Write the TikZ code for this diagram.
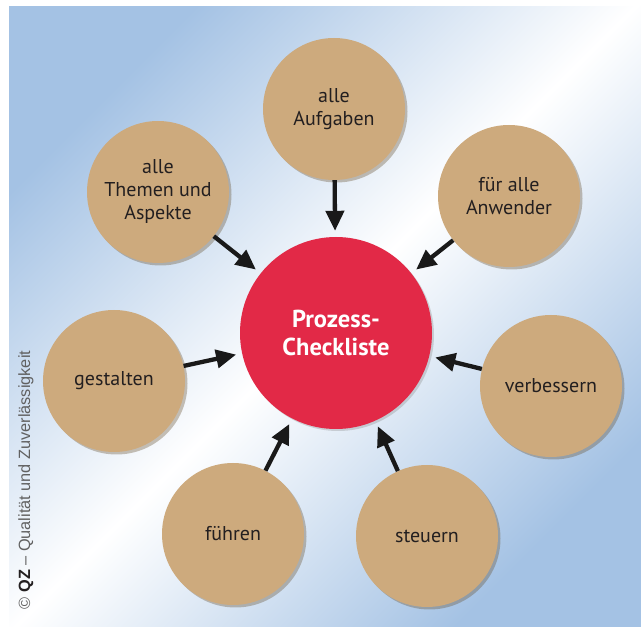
\documentclass[tikz,border=0pt]{standalone}
\usepackage{fontspec}
\setmainfont{PT Sans}
\newfontfamily\copyfont{Liberation Sans}
\usetikzlibrary{arrows.meta,shadows}
\definecolor{tan}{HTML}{CDAA7D}
\definecolor{tanrim}{HTML}{A8844F}
\definecolor{hubred}{HTML}{E22947}
\definecolor{bgblue}{HTML}{A4C2E4}
\definecolor{txt}{HTML}{231F20}
\tikzset{
  x=1pt,y=-1pt,
  spoke/.style={circle,fill=tan,minimum size=142pt,inner sep=0pt,align=center,
    text=txt,font=\fontsize{20}{23}\selectfont,
    drop shadow={shadow xshift=2.5pt,shadow yshift=-2.5pt,opacity=0.35,fill=tanrim!60!black}},
  hub/.style={circle,fill=hubred,minimum size=192pt,inner sep=0pt,align=center,
    text=white,font=\fontsize{24.5}{28}\selectfont\bfseries,
    drop shadow={shadow xshift=2pt,shadow yshift=-2pt,opacity=0.3}},
  feed/.style={line width=4.3pt,draw=black!90,-{Triangle[length=20pt,width=18pt]},shorten >=6pt}
}
\begin{document}
\begin{tikzpicture}
\useasboundingbox (0,0) rectangle (641,628);
\fill[white] (0,0) rectangle (641,628);
\shade[top color=bgblue,bottom color=bgblue,middle color=white,shading angle=45] (9,7) rectangle (641,627);
\node[hub] (hub) at (336,333) {Prozess-\\Checkliste};
\node[spoke] (aufg) at (334,109) {alle\\Aufgaben};
\node[spoke] (them) at (158,192) {alle\\Themen und\\Aspekte};
\node[spoke] (anw) at (509,196) {für alle\\Anwender};
\node[spoke] (gest) at (114,381) {gestalten};
\node[spoke] (fuehr) at (233,534) {führen};
\node[spoke] (verb) at (551,386) {verbessern};
\node[spoke] (steu) at (427,536) {steuern};
\foreach \n in {aufg,them,anw,gest,fuehr,verb,steu}
  \draw[feed] (\n) -- (hub);
\node[rotate=90,font=\copyfont\fontsize{16.3}{18}\selectfont,text=black!62] (copy) at (26,480)
  {© \textbf{\textcolor{txt}{QZ}} – Qualität und Zuverlässigkeit};
\end{tikzpicture}
\end{document}
